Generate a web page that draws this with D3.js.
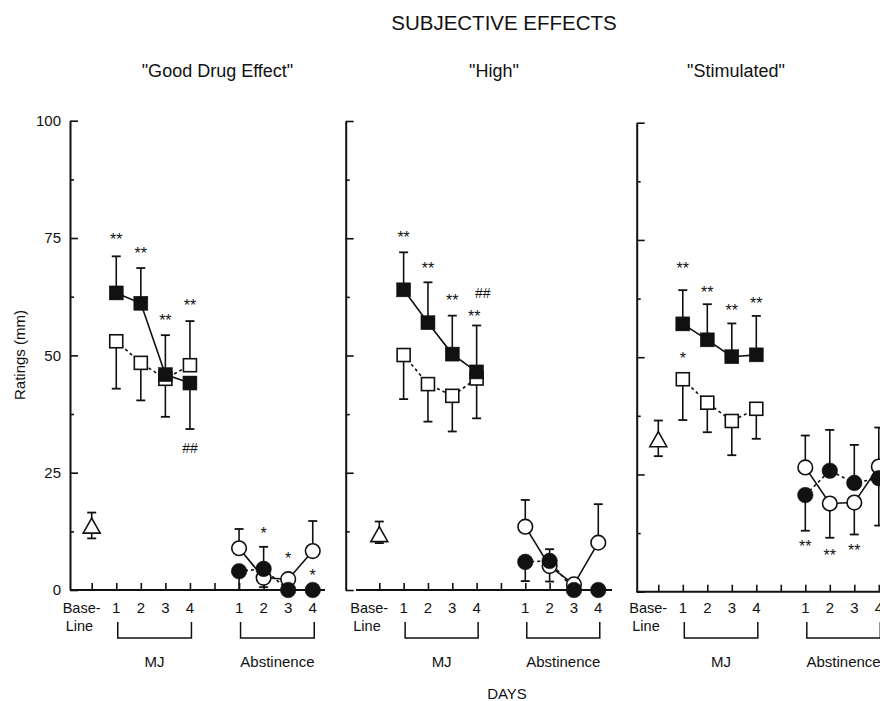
<!DOCTYPE html>
<html>
<head>
<meta charset="utf-8">
<script src="https://cdn.jsdelivr.net/npm/d3@7"></script>
<style>
  body { margin: 0; background: #fff; }
  svg { display: block; font-family: "Liberation Sans", Arial, Helvetica, sans-serif; }
</style>
</head>
<body>
<svg id="chart" width="880" height="701"></svg>
<script>
// ---------------- DATA ----------------
const mainTitle = "SUBJECTIVE EFFECTS";
const panelTitles = ['"Good Drug Effect"', '"High"', '"Stimulated"'];
const yTickValues = [0, 25, 50, 75, 100];
const yMinorValues = [12.5, 37.5, 62.5, 87.5];
const baselineLabel = ["Base-", "Line"];
const mjDayLabels = ["1", "2", "3", "4"];
const absDayLabels = ["1", "2", "3", "4"];
const groupLabels = ["MJ", "Abstinence"];
const xTitle = "DAYS";
const yTitle = "Ratings (mm)";

// Baseline (open triangle): mean, upper and lower error ends
const baselineMean = [13.5, 11.7, 32.3];
const baselineHi = [16.5, 14.6, 36.5];
const baselineLo = [11.0, 10.0, 28.9];

// "Good Drug Effect"
const goodMjFilled = [63.3, 61.1, 45.9, 44.1];
const goodMjFilledErr = [71.1, 68.6, 54.3, 34.3];
const goodMjOpen = [53.0, 48.4, 45.0, 47.9];
const goodMjOpenErr = [42.9, 40.4, 36.9, 57.3];
const goodAbsOpen = [8.9, 2.6, 2.3, 8.3];
const goodAbsOpenErr = [13.0, 0.6, null, 14.7];
const goodAbsFilled = [4.0, 4.5, 0, 0];
const goodAbsFilledErr = [0, 9.2, null, null];
const goodMarks = [[1, 75.6, "**"], [2, 72.6, "**"], [3, 58.2, "**"], [4, 61.4, "**"], [4, 30.3, "##"],
                   [7, 12.8, "*"], [8, 7.5, "*"], [9, 3.9, "*"]];

// "High"
const highMjFilled = [64.0, 57.0, 50.3, 46.5];
const highMjFilledErr = [72.0, 65.6, 58.5, 56.4];
const highMjOpen = [50.1, 43.9, 41.4, 45.1];
const highMjOpenErr = [40.7, 35.9, 33.8, 36.6];
const highAbsOpen = [13.5, 5.1, 1.2, 10.1];
const highAbsOpenErr = [19.2, 1.8, null, 18.3];
const highAbsFilled = [6.0, 6.2, 0, 0];
const highAbsFilledErr = [1.9, 8.7, null, null];
const highMarks = [[1, 76.1, "**"], [2, 69.3, "**"], [3, 62.5, "**"], [3.9, 59.2, "**"], [4.25, 63.3, "##"]];

// "Stimulated"
const stimMjFilled = [57.1, 53.7, 50.1, 50.5];
const stimMjFilledErr = [64.3, 61.3, 57.2, 58.8];
const stimMjOpen = [45.3, 40.3, 36.4, 39.0];
const stimMjOpenErr = [36.6, 34.0, 29.1, 32.6];
const stimAbsOpen = [26.5, 18.8, 19.0, 26.7];
const stimAbsOpenErr = [33.3, 11.5, 12.2, 35.0];
const stimAbsFilled = [20.6, 25.8, 23.2, 24.2];
const stimAbsFilledErr = [13.0, 34.5, 31.3, 14.1];
const stimMarks = [[1, 69.7, "**"], [2, 64.7, "**"], [3, 60.8, "**"], [4, 62.4, "**"], [1, 50.5, "*"],
                   [6, 10.4, "**"], [7, 8.5, "**"], [8, 9.6, "**"]];

const mjIdx = [1, 2, 3, 4];
const absIdx = [6, 7, 8, 9];

// ---------------- LAYOUT ----------------
const layout = [
  { axisX: 70, base: 91.7, step: 24.56, y0: 590, y100: 120.7, xStart: 70, xEnd: 325, labels: true },
  { axisX: 345.7, base: 379.3, step: 24.33, y0: 590, y100: 121, xStart: 356, xEnd: 612, labels: false },
  { axisX: 636.7, base: 658.3, step: 24.5, y0: 591.7, y100: 122.7, xStart: 636.7, xEnd: 900, labels: false }
];
const titleX = [217.5, 494, 736];

const panels = [
  { title: panelTitles[0], base: [baselineMean[0], baselineHi[0], baselineLo[0]],
    mjF: goodMjFilled, mjFE: goodMjFilledErr, mjO: goodMjOpen, mjOE: goodMjOpenErr,
    abO: goodAbsOpen, abOE: goodAbsOpenErr, abF: goodAbsFilled, abFE: goodAbsFilledErr, marks: goodMarks },
  { title: panelTitles[1], base: [baselineMean[1], baselineHi[1], baselineLo[1]],
    mjF: highMjFilled, mjFE: highMjFilledErr, mjO: highMjOpen, mjOE: highMjOpenErr,
    abO: highAbsOpen, abOE: highAbsOpenErr, abF: highAbsFilled, abFE: highAbsFilledErr, marks: highMarks },
  { title: panelTitles[2], base: [baselineMean[2], baselineHi[2], baselineLo[2]],
    mjF: stimMjFilled, mjFE: stimMjFilledErr, mjO: stimMjOpen, mjOE: stimMjOpenErr,
    abO: stimAbsOpen, abOE: stimAbsOpenErr, abF: stimAbsFilled, abFE: stimAbsFilledErr, marks: stimMarks }
];

// ---------------- DRAW ----------------
const svg = d3.select("#chart");
const ink = "#111";

svg.append("text").attr("x", 504).attr("y", 30).attr("text-anchor", "middle")
  .attr("font-size", 20.5).attr("fill", ink).text(mainTitle);

svg.append("text").attr("transform", "translate(25,355) rotate(-90)")
  .attr("text-anchor", "middle").attr("font-size", 15).attr("fill", ink).text(yTitle);

svg.append("text").attr("x", 507).attr("y", 699).attr("text-anchor", "middle")
  .attr("font-size", 15).attr("fill", ink).text(xTitle);

panels.forEach((p, pi) => {
  const L = layout[pi];
  const x = d3.scaleLinear().domain([0, 9]).range([L.base, L.base + 9 * L.step]);
  const y = d3.scaleLinear().domain([0, 100]).range([L.y0, L.y100]);
  const g = svg.append("g");

  g.append("text").attr("x", titleX[pi]).attr("y", 77).attr("text-anchor", "middle")
    .attr("font-size", 18).attr("fill", ink).text(p.title);

  // y axis: major + minor inward ticks
  const yMajor = g.append("g").attr("transform", `translate(${L.axisX},0)`)
    .call(d3.axisRight(y).tickValues(yTickValues).tickSize(8).tickSizeOuter(0).tickFormat(""));
  const yMinor = g.append("g").attr("transform", `translate(${L.axisX},0)`)
    .call(d3.axisRight(y).tickValues(yMinorValues).tickSize(4).tickSizeOuter(0).tickFormat(""));
  yMinor.select(".domain").remove();
  [yMajor, yMinor].forEach(a => {
    a.selectAll("path,line").attr("stroke", ink).attr("stroke-width", 1.6);
  });
  yMajor.select(".domain").attr("stroke-width", 2);
  if (L.labels) {
    const yl = g.append("g").attr("transform", `translate(${L.axisX},0)`)
      .call(d3.axisLeft(y).tickValues(yTickValues).tickSize(0).tickPadding(9).tickFormat(d3.format("d")));
    yl.select(".domain").remove();
    yl.selectAll("text").attr("font-size", 15).attr("fill", ink)
      .attr("font-family", '"Liberation Sans", Arial, sans-serif');
  }

  // x axis
  g.append("line").attr("x1", L.xStart).attr("x2", L.xEnd).attr("y1", L.y0).attr("y2", L.y0)
    .attr("stroke", ink).attr("stroke-width", 2);
  const xa = g.append("g").attr("transform", `translate(0,${L.y0})`)
    .call(d3.axisTop(x).tickValues(d3.range(10)).tickSize(7).tickSizeOuter(0).tickFormat(""));
  xa.select(".domain").remove();
  xa.selectAll("line").attr("stroke", ink).attr("stroke-width", 1.6);

  // x labels
  g.append("text").attr("x", x(0) - 29).attr("y", 613).attr("font-size", 14.5).attr("fill", ink).text(baselineLabel[0]);
  g.append("text").attr("x", x(0) - 26).attr("y", 631).attr("font-size", 14.5).attr("fill", ink).text(baselineLabel[1]);
  mjIdx.forEach((d, i) => g.append("text").attr("x", x(d)).attr("y", 613).attr("text-anchor", "middle")
    .attr("font-size", 15).attr("fill", ink).text(mjDayLabels[i]));
  absIdx.forEach((d, i) => g.append("text").attr("x", x(d)).attr("y", 613).attr("text-anchor", "middle")
    .attr("font-size", 15).attr("fill", ink).text(absDayLabels[i]));

  // brackets
  [[mjIdx, groupLabels[0]], [absIdx, groupLabels[1]]].forEach(([idx, lab]) => {
    const a = x(idx[0]) + 1.5, b = x(idx[idx.length - 1]) + 1.5;
    g.append("path").attr("d", `M${a},622 V638 H${b} V622`).attr("fill", "none")
      .attr("stroke", ink).attr("stroke-width", 1.5);
    g.append("text").attr("x", (a + b) / 2).attr("y", 667).attr("text-anchor", "middle")
      .attr("font-size", 15).attr("fill", ink).text(lab);
  });

  // series connecting lines
  const line = d3.line().x(d => x(d[0])).y(d => y(d[1]));
  const series = [
    { idx: mjIdx, v: p.mjO, e: p.mjOE, shape: "square", fill: false, dash: "3,3" },
    { idx: mjIdx, v: p.mjF, e: p.mjFE, shape: "square", fill: true, dash: null },
    { idx: absIdx, v: p.abO, e: p.abOE, shape: "circle", fill: false, dash: null },
    { idx: absIdx, v: p.abF, e: p.abFE, shape: "circle", fill: true, dash: "3,3" }
  ];
  series.forEach(s => {
    g.append("path").datum(s.idx.map((d, i) => [d, s.v[i]])).attr("d", line)
      .attr("fill", "none").attr("stroke", ink).attr("stroke-width", 1.6)
      .attr("stroke-dasharray", s.dash);
  });

  // error bars
  const errBar = (xi, from, to) => {
    g.append("line").attr("x1", x(xi)).attr("x2", x(xi)).attr("y1", y(from)).attr("y2", y(to))
      .attr("stroke", ink).attr("stroke-width", 1.6);
    g.append("line").attr("x1", x(xi) - 4.5).attr("x2", x(xi) + 4.5).attr("y1", y(to)).attr("y2", y(to))
      .attr("stroke", ink).attr("stroke-width", 1.8);
  };
  errBar(0, p.base[0], p.base[1]);
  errBar(0, p.base[0], p.base[2]);
  series.forEach(s => s.idx.forEach((d, i) => { if (s.e[i] !== null) errBar(d, s.v[i], s.e[i]); }));

  // baseline triangle
  g.append("path").attr("d", "M0,-8.5 L8.5,6.5 L-8.5,6.5 Z")
    .attr("transform", `translate(${x(0)},${y(p.base[0])})`)
    .attr("fill", "#fff").attr("stroke", ink).attr("stroke-width", 1.6);

  // markers
  series.forEach(s => s.idx.forEach((d, i) => {
    const cx = x(d), cy = y(s.v[i]);
    if (s.shape === "square") {
      const sz = s.fill ? 14 : 13;
      g.append("rect").attr("x", cx - sz / 2).attr("y", cy - sz / 2).attr("width", sz).attr("height", sz)
        .attr("fill", s.fill ? ink : "#fff").attr("stroke", ink).attr("stroke-width", s.fill ? 0.5 : 1.6);
    } else {
      g.append("circle").attr("cx", cx).attr("cy", cy).attr("r", s.fill ? 7.8 : 7.3)
        .attr("fill", s.fill ? ink : "#fff").attr("stroke", ink).attr("stroke-width", s.fill ? 0.5 : 1.6);
    }
  }));

  // significance marks
  p.marks.forEach(m => {
    const isHash = m[2].startsWith("#");
    g.append("text").attr("x", x(m[0])).attr("y", y(m[1]) + (isHash ? 5 : 9.5))
      .attr("text-anchor", "middle").attr("font-size", isHash ? 14 : 16)
      .attr("fill", ink).text(m[2]);
  });
});
</script>
</body>
</html>
